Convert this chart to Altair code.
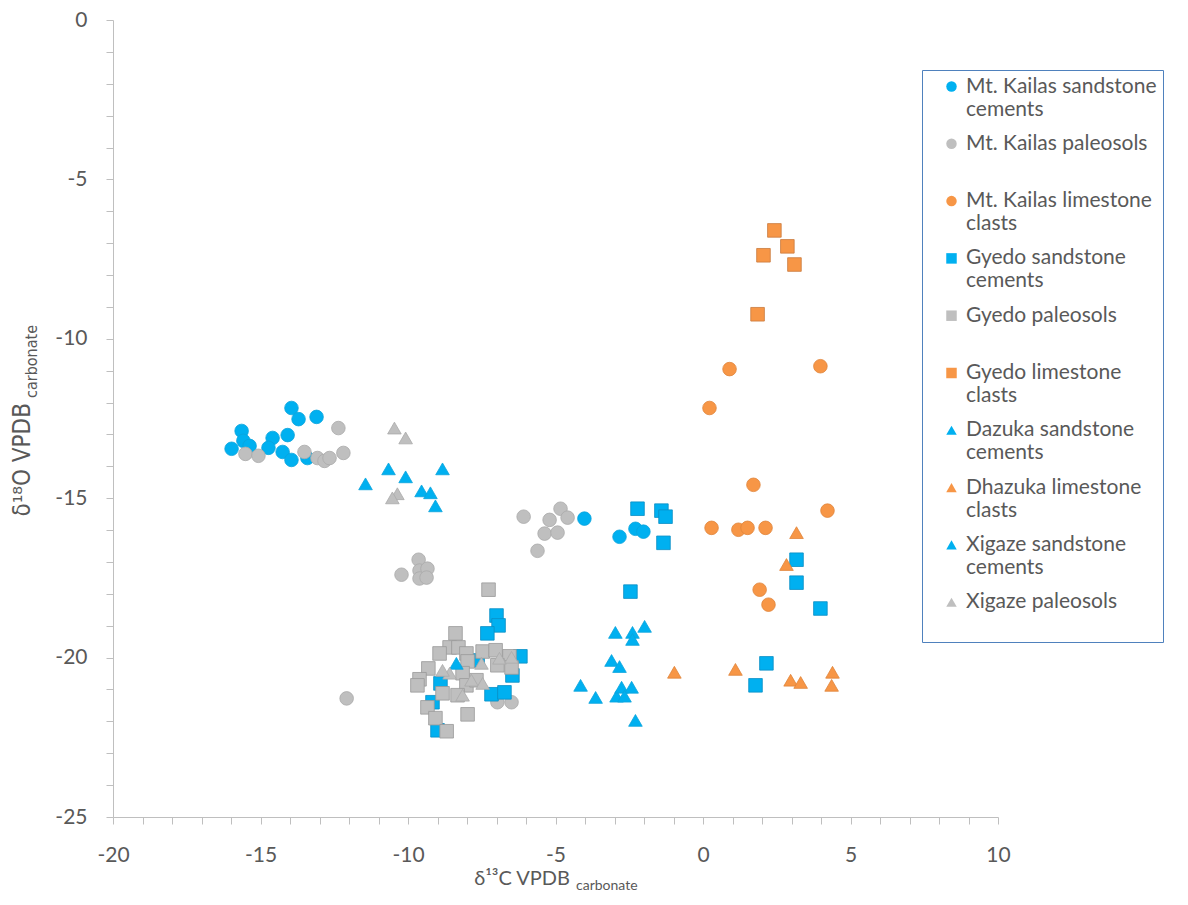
import altair as alt
import pandas as pd

# ---------------- data ----------------
SERIES = [
    "Mt. Kailas sandstone cements",
    "Mt. Kailas paleosols",
    "Mt. Kailas limestone clasts",
    "Gyedo sandstone cements",
    "Gyedo paleosols",
    "Gyedo limestone clasts",
    "Dazuka sandstone cements",
    "Dhazuka limestone clasts",
    "Xigaze sandstone cements",
    "Xigaze paleosols",
]
COLORS = ["#00B0F0", "#BFBFBF", "#F79646", "#00B0F0", "#BFBFBF",
          "#F79646", "#00B0F0", "#F79646", "#00B0F0", "#BFBFBF"]
EDGES = ["#0AA3DC", "#A9A9A9", "#E0843A", "#0A8EC4", "#999999",
         "#C97A3E", "#0AA3DC", "#E0843A", "#0AA3DC", "#A9A9A9"]
SHAPES = ["circle", "circle", "circle", "square", "square",
          "square", "triangle-up", "triangle-up", "triangle-up", "triangle-up"]

KS_X = [-13.95, -13.71, -13.10, -15.64, -15.58, -15.98, -14.59, -14.08, -14.73,
        -14.25, -13.95, -13.41, -15.37, -4.02, -2.83, -2.29, -2.02]
KS_Y = [-12.17, -12.52, -12.45, -12.89, -13.20, -13.45, -13.11, -13.02, -13.42,
        -13.55, -13.80, -13.74, -13.36, -15.64, -16.21, -15.96, -16.05]

KP_X = [-12.36, -15.51, -15.07, -13.51, -13.07, -12.83, -12.66, -12.19, -10.22,
        -9.64, -9.61, -9.34, -9.61, -9.37, -12.08, -6.08, -4.83, -5.20, -4.59,
        -5.37, -4.93, -5.61, -6.97, -6.49]
KP_Y = [-12.80, -13.61, -13.67, -13.55, -13.74, -13.83, -13.74, -13.58, -17.40,
        -16.93, -17.27, -17.21, -17.52, -17.49, -21.28, -15.58, -15.33, -15.68,
        -15.61, -16.11, -16.08, -16.65, -21.40, -21.40]

KL_X = [0.90, 3.98, 0.22, 1.71, 4.22, 0.29, 1.20, 1.51, 2.12, 1.92, 2.22]
KL_Y = [-10.95, -10.86, -12.17, -14.58, -15.39, -15.93, -15.99, -15.93, -15.93,
        -17.87, -18.34]

GS_X = [-2.22, -1.41, -1.27, -1.34, -2.46, 3.17, 3.17, 3.98, 2.15, 1.78, -7.00,
        -6.93, -7.31, -6.19, -6.46, -7.17, -6.73, -9.17, -8.90, -9.00, -7.64]
GS_Y = [-15.33, -15.39, -15.58, -16.40, -17.93, -16.93, -17.65, -18.46, -20.18,
        -20.87, -18.68, -18.99, -19.24, -19.96, -20.56, -21.15, -21.09, -21.40,
        -20.81, -22.28, -20.09]

GP_X = [-7.27, -8.39, -8.59, -8.29, -8.93, -8.02, -7.47, -7.03, -6.56, -9.31,
        -7.98, -9.61, -9.68, -8.15, -8.83, -8.02, -9.34, -9.07, -7.98, -8.69,
        -6.49, -6.97, -8.32, -7.68]
GP_Y = [-17.87, -19.24, -19.68, -19.68, -19.87, -19.87, -19.81, -19.77, -19.96,
        -20.34, -20.12, -20.68, -20.87, -20.49, -21.12, -20.87, -21.56, -21.90,
        -21.78, -22.31, -20.31, -20.24, -21.18, -20.71]

GL_X = [2.42, 2.86, 2.05, 3.10, 1.85]
GL_Y = [-6.60, -7.10, -7.38, -7.67, -9.23]

DS_X = [-2.97, -2.39, -2.39, -1.98, -3.10, -2.83, -4.15, -3.64, -2.93, -2.76,
        -2.42, -2.66, -2.29]
DS_Y = [-19.21, -19.21, -19.43, -19.02, -20.09, -20.28, -20.87, -21.25, -21.21,
        -20.93, -20.93, -21.21, -21.97]

DL_X = [3.17, 2.83, -0.97, 1.10, 2.97, 3.31, 4.39, 4.36]
DL_Y = [-16.08, -17.08, -20.46, -20.37, -20.71, -20.78, -20.46, -20.87]

XS_X = [-11.44, -10.66, -10.08, -8.83, -9.54, -9.24, -9.07, -8.36]
XS_Y = [-14.55, -14.08, -14.33, -14.08, -14.77, -14.83, -15.24, -20.18]

XP_X = [-10.46, -10.08, -10.36, -10.53, -8.59, -7.51, -7.85, -7.47, -6.90,
        -6.49, -8.83, -8.15]
XP_Y = [-12.80, -13.11, -14.86, -14.99, -20.49, -20.18, -20.71, -20.81, -20.02,
        -19.99, -20.40, -21.18]

X_TICKS = list(range(-20, 11))
Y_TICKS = list(range(-25, 1))

X_TITLE = ["δ¹³C VPDB", "carbonate"]
Y_TITLE = ["δ¹⁸O VPDB", "carbonate"]

# ---------------- table ----------------
pairs = [(KS_X, KS_Y), (KP_X, KP_Y), (KL_X, KL_Y), (GS_X, GS_Y), (GP_X, GP_Y),
         (GL_X, GL_Y), (DS_X, DS_Y), (DL_X, DL_Y), (XS_X, XS_Y), (XP_X, XP_Y)]
rows = []
for name, (xs, ys) in zip(SERIES, pairs):
    for xv, yv in zip(xs, ys):
        rows.append({"series": name, "d13C": xv, "d18O": yv})
df = pd.DataFrame(rows)

FONT = "Lato"
GREY_TXT = "#595959"
AXIS_GREY = "#BFBFBF"

legend = alt.Legend(
    title=None,
    orient="none",
    legendX=809,
    legendY=50,
    direction="vertical",
    labelFont=FONT,
    labelFontSize=21,
    labelColor=GREY_TXT,
    labelLimit=500,
    labelBaseline="middle",
    labelExpr=(
        "indexof(datum.label, 'paleosols') >= 0 ? [datum.label, ''] : "
        "[slice(datum.label, 0, lastindexof(datum.label, ' ')), "
        "slice(datum.label, lastindexof(datum.label, ' ') + 1)]"
    ),
    symbolSize=110,
    symbolStrokeWidth=0,
    symbolOffset=13,
    labelOffset=4,
    padding=6,
    rowPadding=12.3,
    strokeColor="#4F81BD",
    fillColor="white",
)

x_axis = alt.Axis(
    values=X_TICKS,
    labelExpr="datum.value % 5 === 0 ? '' + datum.value : ''",
    title=None,
    grid=False,
    domainColor=AXIS_GREY,
    tickColor=AXIS_GREY,
    tickSize=7,
    labelPadding=20,
    labelFont=FONT,
    labelFontSize=21,
    labelColor=GREY_TXT,
    labelOverlap=False,
    labelFlush=False,
)
y_axis = alt.Axis(
    values=Y_TICKS,
    labelExpr="datum.value % 5 === 0 ? '' + datum.value : ''",
    title=None,
    grid=False,
    domainColor=AXIS_GREY,
    tickColor=AXIS_GREY,
    tickSize=7,
    labelPadding=19,
    labelFont=FONT,
    labelFontSize=21,
    labelColor=GREY_TXT,
    labelOverlap=False,
    labelFlush=False,
)

points = alt.Chart(df).mark_point(filled=True, opacity=1, size=185, strokeWidth=0.8).encode(
    x=alt.X("d13C:Q", scale=alt.Scale(domain=[-20, 10], nice=False, zero=False), axis=x_axis),
    y=alt.Y("d18O:Q", scale=alt.Scale(domain=[-25, 0], nice=False, zero=False), axis=y_axis),
    color=alt.Color("series:N", scale=alt.Scale(domain=SERIES, range=COLORS), legend=legend),
    shape=alt.Shape("series:N", scale=alt.Scale(domain=SERIES, range=SHAPES), legend=legend),
    stroke=alt.Stroke("series:N", scale=alt.Scale(domain=SERIES, range=EDGES), legend=None),
)

xt_main = alt.Chart(pd.DataFrame({"t": [X_TITLE[0]]})).mark_text(
    font=FONT, fontSize=20, color=GREY_TXT, align="right", baseline="alphabetic"
).encode(text="t:N", x=alt.value(457), y=alt.value(865))
xt_sub = alt.Chart(pd.DataFrame({"t": [X_TITLE[1]]})).mark_text(
    font=FONT, fontSize=14, color=GREY_TXT, align="left", baseline="alphabetic"
).encode(text="t:N", x=alt.value(463), y=alt.value(870))

NARROW = "Liberation Sans Narrow, DejaVu Sans Condensed, Lato"
yt_main = alt.Chart(pd.DataFrame({"t": [Y_TITLE[0]]})).mark_text(
    font=NARROW, fontSize=24, color=GREY_TXT, align="right", baseline="alphabetic", angle=270
).encode(text="t:N", x=alt.value(-83), y=alt.value(383))
yt_sub = alt.Chart(pd.DataFrame({"t": [Y_TITLE[1]]})).mark_text(
    font=NARROW, fontSize=16, color=GREY_TXT, align="left", baseline="alphabetic", angle=270
).encode(text="t:N", x=alt.value(-76), y=alt.value(378))

chart = alt.layer(points, xt_main, xt_sub, yt_main, yt_sub).properties(
    width=885,
    height=797,
    padding={"left": 105, "top": 12, "right": 182, "bottom": 78},
    autosize=alt.AutoSizeParams(type="none"),
).configure_view(stroke=None)

chart.save("out.html", embed_options={"renderer": "svg", "actions": False})
